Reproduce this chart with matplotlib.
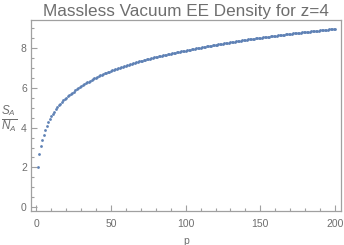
import matplotlib
matplotlib.use("Agg")
import matplotlib.pyplot as plt
from matplotlib.ticker import MultipleLocator

p_values = list(range(1, 201))
density = [
    2.00, 2.66, 3.06, 3.38, 3.65, 3.88, 4.08, 4.26, 4.42, 4.56,
    4.69, 4.81, 4.92, 5.02, 5.12, 5.21, 5.29, 5.37, 5.44, 5.51,
    5.58, 5.64, 5.70, 5.76, 5.81, 5.869, 5.926, 5.981, 6.034, 6.085,
    6.134, 6.182, 6.228, 6.273, 6.317, 6.359, 6.400, 6.440, 6.479, 6.517,
    6.554, 6.590, 6.625, 6.659, 6.693, 6.726, 6.758, 6.789, 6.820, 6.850,
    6.880, 6.909, 6.937, 6.965, 6.992, 7.019, 7.045, 7.071, 7.096, 7.121,
    7.146, 7.170, 7.194, 7.217, 7.240, 7.263, 7.285, 7.307, 7.329, 7.350,
    7.371, 7.392, 7.412, 7.432, 7.452, 7.472, 7.491, 7.510, 7.529, 7.548,
    7.566, 7.584, 7.602, 7.620, 7.637, 7.654, 7.671, 7.688, 7.705, 7.721,
    7.737, 7.753, 7.769, 7.785, 7.801, 7.816, 7.831, 7.846, 7.861, 7.876,
    7.891, 7.906, 7.921, 7.936, 7.951, 7.966, 7.981, 7.996, 8.011, 8.027,
    8.041, 8.055, 8.068, 8.082, 8.096, 8.110, 8.123, 8.137, 8.151, 8.164,
    8.177, 8.189, 8.202, 8.215, 8.227, 8.240, 8.253, 8.265, 8.278, 8.291,
    8.303, 8.314, 8.326, 8.338, 8.350, 8.361, 8.373, 8.385, 8.396, 8.408,
    8.419, 8.430, 8.441, 8.452, 8.463, 8.473, 8.484, 8.495, 8.506, 8.517,
    8.527, 8.537, 8.547, 8.558, 8.568, 8.578, 8.588, 8.598, 8.609, 8.619,
    8.629, 8.638, 8.648, 8.657, 8.667, 8.677, 8.686, 8.696, 8.705, 8.715,
    8.724, 8.733, 8.742, 8.751, 8.760, 8.769, 8.778, 8.787, 8.796, 8.805,
    8.814, 8.822, 8.831, 8.839, 8.848, 8.856, 8.865, 8.873, 8.882, 8.890,
    8.898, 8.906, 8.914, 8.922, 8.931, 8.939, 8.947, 8.955, 8.963, 8.971,
]
x_ticks = [0, 50, 100, 150, 200]
y_ticks = [0, 2, 4, 6, 8]

plt.rcParams['font.family'] = ['Liberation Sans', 'DejaVu Sans']
plt.rcParams['mathtext.fontset'] = 'custom'
plt.rcParams['mathtext.rm'] = 'Liberation Sans'
plt.rcParams['mathtext.it'] = 'Liberation Sans:italic'

frame_c = '#a0a0a0'
text_c = '#6e6e6e'

fig = plt.figure(figsize=(3.44, 2.45), dpi=100)
ax = fig.add_axes([31/344, (245-211)/245, (341-31)/344, (211-20)/245])

ax.plot(p_values, density, linestyle='none', marker='o', markersize=2.0,
        markeredgewidth=0, color='#5e81b5')

ax.set_xlim(-3.5, 204)
ax.set_ylim(-0.19, 9.41)
ax.set_xticks(x_ticks)
ax.set_yticks(y_ticks)
ax.xaxis.set_minor_locator(MultipleLocator(10))
ax.yaxis.set_minor_locator(MultipleLocator(0.5))
ax.tick_params(which='both', direction='in', colors=frame_c, labelcolor=text_c,
               labelsize=7.5, width=0.8)
ax.tick_params(which='major', length=4)
ax.tick_params(which='minor', length=2)
ax.tick_params(axis='x', pad=6)
ax.tick_params(axis='y', pad=3)
for s in ax.spines.values():
    s.set_color(frame_c)
    s.set_linewidth(0.9)

ax.set_title('Massless Vacuum EE Density for z=4', fontsize=12.3, color=text_c, pad=3)
ax.set_xlabel('p', fontsize=7.5, color=text_c, labelpad=5)
fig.text(9/344, (245-119)/245, r'$\frac{S_A}{N_A}$', fontsize=12, color=text_c,
         ha='center', va='center')

fig.savefig('out.png', dpi=100)
